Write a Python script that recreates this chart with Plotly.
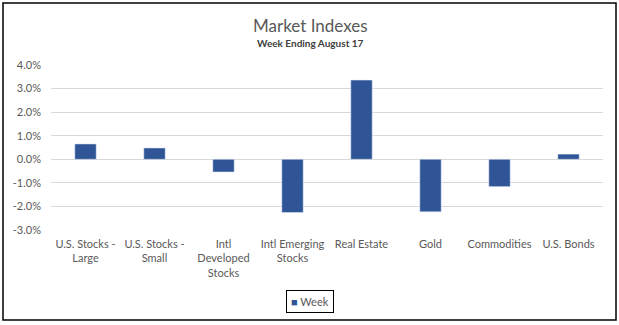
import plotly.graph_objects as go

categories = ["U.S. Stocks -<br>Large", "U.S. Stocks -<br>Small", "Intl<br>Developed<br>Stocks",
              "Intl Emerging<br>Stocks", "Real Estate", "Gold", "Commodities", "U.S. Bonds"]
week = [0.65, 0.48, -0.54, -2.26, 3.36, -2.23, -1.16, 0.22]
tick_vals = [-3, -2, -1, 0, 1, 2, 3, 4]
tick_text = ["-3.0%", "-2.0%", "-1.0%", "0.0%", "1.0%", "2.0%", "3.0%", "4.0%"]

FONT = "Lato"
GRAY = "#595959"
BAR = "#2F5597"
W, H = 619, 325
L, R, T, B = 51, 16, 65, 95
PW, PH = W - L - R, H - T - B

def px(x):
    return (x - L) / PW

def py(y):
    return (H - B - y) / PH

fig = go.Figure()
fig.add_trace(go.Bar(x=categories, y=week, name="Week", marker_color=BAR, width=0.31))

fig.update_layout(
    width=W, height=H,
    margin=dict(l=L, r=R, t=T, b=B, autoexpand=False),
    paper_bgcolor="white", plot_bgcolor="white",
    font=dict(family=FONT, size=11, color=GRAY),
    showlegend=False,
)
fig.update_yaxes(range=[-3, 4], tickvals=tick_vals, ticktext=tick_text, automargin=False,
                 gridcolor="#D9D9D9", gridwidth=1, zeroline=False, showline=False,
                 tickfont=dict(size=11, color=GRAY), ticks="", ticklabelstandoff=9)
fig.update_xaxes(showgrid=False, showline=False, automargin=False,
                 tickfont=dict(size=11, color=GRAY), ticks="", ticklabelstandoff=6)

# titles
fig.add_annotation(text="Market Indexes", xref="paper", yref="paper", x=px(310), y=py(25),
                   xanchor="center", yanchor="middle", showarrow=False,
                   font=dict(family=FONT, size=17, color=GRAY))
fig.add_annotation(text="<b>Week Ending August 17</b>", xref="paper", yref="paper", x=px(310), y=py(43),
                   xanchor="center", yanchor="middle", showarrow=False,
                   font=dict(family=FONT, size=10, color="#404040"))
# legend
fig.add_annotation(text=f"<span style='color:{BAR};font-size:11px'>■</span> Week", xref="paper", yref="paper",
                   x=px(310), y=py(301.5), xanchor="center", yanchor="middle", showarrow=False,
                   font=dict(family=FONT, size=11, color=GRAY),
                   bordercolor="black", borderwidth=1, borderpad=4, bgcolor="white")
# outer border
fig.add_shape(type="rect", xref="paper", yref="paper", x0=px(3), x1=px(616), y0=py(320), y1=py(3),
              line=dict(color="black", width=1.5), fillcolor="rgba(0,0,0,0)", layer="above")

fig.write_html("out.html")
